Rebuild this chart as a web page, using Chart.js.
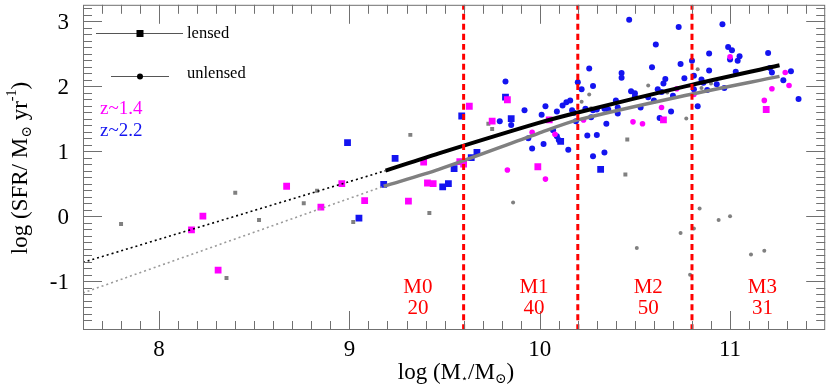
<!DOCTYPE html>
<html>
<head>
<meta charset="utf-8">
<script src="https://cdn.jsdelivr.net/npm/chart.js@4/dist/chart.umd.min.js"></script>
<style>
  body { margin: 0; background: #fff; }
  canvas { display: block; }
</style>
</head>
<body>
<canvas id="msChart" width="830" height="387"></canvas>
<script>
// axis ranges and tick labels
const xRange = [7.6, 11.5];
const yRange = [-1.75, 3.25];
const xTickLabels = [8, 9, 10, 11];
const yTickLabels = [-1, 0, 1, 2, 3];

// mass bin edges and bin labels
const binEdges = [9.6, 10.2, 10.8];
const binNames = ['M0', 'M1', 'M2', 'M3'];
const binCounts = ['20', '40', '50', '31'];
const binCentres = [9.36, 9.97, 10.57, 11.17];

// lensed galaxies (squares)
const lensedZ22 = [[8.99,1.13],[9.24,0.89],[9.18,0.49],[9.05,-0.03],[9.49,0.45],[9.52,0.50],[9.55,0.73],
  [9.59,1.54],[9.64,0.90],[9.67,0.98],[9.82,1.83],[9.85,1.50],[10.11,1.15],[10.32,0.72]];
const lensedZ14 = [[8.67,0.46],[8.23,0.00],[8.17,-0.21],[8.31,-0.83],[8.96,0.50],[8.85,0.14],[9.08,0.24],
  [9.31,0.23],[9.39,0.83],[9.41,0.51],[9.44,0.50],[9.58,0.84],[9.60,0.80],[9.63,1.69],[9.75,1.46],
  [9.83,1.79],[9.99,0.76],[10.05,1.48],[10.65,1.48],[11.19,1.64]];
const lensedOther = [[7.80,-0.12],[8.40,0.36],[8.525,-0.06],[8.354,-0.95],[8.83,0.39],[8.76,0.20],[9.02,-0.09],
  [9.42,0.05],[9.32,1.25],[9.73,1.42],[9.75,1.34],[10.46,1.18],[10.45,0.64]];

// unlensed galaxies (circles)
const unlensedZ14 = [[9.83,0.71],[10.03,0.57],[9.96,1.29],[10.08,1.26],[10.23,1.48],[10.49,1.45],[10.54,1.42],
  [10.64,1.67],[10.72,1.96],[10.81,1.87],[11.00,2.45],[11.18,1.78],[11.22,1.96],[11.29,2.21],[11.31,2.01]];
const unlensedZ22 = [[9.82,2.07],[9.79,1.46],[9.85,1.40],[9.92,1.63],[10.03,1.69],[10.01,1.56],[10.09,1.61],
  [9.94,1.20],[9.96,1.04],[10.02,1.11],[10.07,1.32],[10.12,1.70],[10.14,1.75],[10.16,1.78],[10.20,2.06],
  [10.17,1.63],[10.19,1.46],[10.09,1.23],[10.10,1.17],[10.15,1.02],[10.18,1.59],[10.22,1.95],[10.26,2.27],
  [10.28,2.00],[10.24,1.65],[10.27,1.52],[10.28,1.63],[10.30,1.64],[10.25,1.24],[10.30,1.25],[10.28,0.92],
  [10.34,0.98],[10.35,1.42],[10.34,1.65],[10.36,1.64],[10.40,1.78],[10.41,1.67],[10.41,1.58],[10.43,2.20],
  [10.43,2.13],[10.47,3.02],[10.48,1.92],[10.50,1.89],[10.50,1.84],[10.53,1.67],[10.57,1.83],[10.59,2.29],
  [10.60,1.78],[10.61,2.64],[10.62,1.95],[10.64,1.91],[10.65,2.04],[10.66,2.11],[10.63,1.51],[10.69,1.61],
  [10.70,1.85],[10.73,2.91],[10.74,2.34],[10.76,2.12],[10.80,2.39],[10.81,2.16],[10.81,1.95],[10.83,1.69],
  [10.85,2.10],[10.86,2.05],[10.88,1.94],[10.89,2.50],[10.89,2.24],[10.93,2.03],[10.96,2.95],[10.97,1.97],
  [10.99,2.60],[11.01,2.55],[11.00,2.41],[11.04,2.39],[11.05,2.46],[11.03,2.22],[11.20,2.51],[11.21,2.28],
  [11.22,2.21],[11.28,2.09],[11.32,2.23],[11.36,1.80]];
const unlensedOther = [[9.86,0.21],[10.51,-0.49],[10.74,-0.26],[10.81,-0.19],[10.84,0.12],[10.94,-0.06],
  [10.79,-0.90],[11.11,-0.59],[11.18,-0.53],[11.00,0.00],[10.26,1.87],[10.22,1.76],[10.57,2.01],[10.77,1.50],
  [10.67,1.90],[10.83,2.26],[10.85,1.97],[10.90,2.04],[10.27,1.66]];

// main-sequence fits
const fitLensed = [[9.19,0.70],[9.47,0.965],[9.99,1.43],[10.20,1.594],[10.77,2.00],[11.26,2.32]];
const fitUnlensed = [[9.18,0.46],[9.47,0.72],[9.99,1.27],[10.20,1.48],[10.77,1.86],[11.26,2.15]];
const extLensed = [[7.60,-0.71],[9.19,0.70]];
const extUnlensed = [[7.60,-1.18],[9.18,0.46]];

const BLUE = '#1414f0';
const MAGENTA = '#ff00ff';
const GREY = '#808080';
const SERIF = '"Liberation Serif", "DejaVu Serif", serif';

const pts = arr => arr.map(([x, y]) => ({ x, y }));

const scatterSet = (arr, color, style, r) => ({
  data: pts(arr), backgroundColor: color, borderColor: color, borderWidth: 0,
  pointStyle: style, pointRadius: r, showLine: false
});
const lineSet = (arr, color, width, dash) => ({
  data: pts(arr), borderColor: color, borderWidth: width, borderDash: dash || [],
  pointRadius: 0, showLine: true, tension: 0.3, fill: false
});

// first dataset ends up on top
const datasets = [
  ...binEdges.map(x => lineSet([[x, yRange[0]], [x, yRange[1]]], '#ff0000', 3, [6, 4])),
  lineSet(fitLensed, '#000000', 4),
  lineSet(fitUnlensed, GREY, 3.5),
  lineSet(extLensed, '#000000', 1.6, [2, 3]),
  lineSet(extUnlensed, '#9a9a9a', 1.6, [2, 3]),
  scatterSet(unlensedZ14, MAGENTA, 'circle', 2.8),
  scatterSet(lensedZ14, MAGENTA, 'rect', 4.8),
  scatterSet(unlensedOther, GREY, 'circle', 2),
  scatterSet(lensedOther, GREY, 'rect', 2.8),
  scatterSet(lensedZ22, BLUE, 'rect', 4.8),
  scatterSet(unlensedZ22, BLUE, 'circle', 3)
];

// frame, inward ticks, labels, titles and legend, all placed through the scales
const framePlugin = {
  id: 'frame',
  afterDraw(chart) {
    const { ctx, chartArea: a, scales: { x, y } } = chart;
    ctx.save();
    ctx.strokeStyle = '#707070';
    ctx.lineWidth = 1;
    ctx.strokeRect(a.left + 0.5, a.top + 0.5, a.right - a.left - 1, a.bottom - a.top - 1);

    ctx.beginPath();
    for (let i = Math.round(xRange[0] * 10) + 1; i < xRange[1] * 10; i++) {
      const px = Math.round(x.getPixelForValue(i / 10)) + 0.5;
      const len = i % 10 === 0 ? 19 : 9;
      ctx.moveTo(px, a.bottom); ctx.lineTo(px, a.bottom - len);
      ctx.moveTo(px, a.top); ctx.lineTo(px, a.top + len);
    }
    for (let i = Math.round(yRange[0] * 10) + 1; i < yRange[1] * 10; i++) {
      const py = Math.round(y.getPixelForValue(i / 10)) + 0.5;
      const len = i % 10 === 0 ? 19 : 9;
      ctx.moveTo(a.left, py); ctx.lineTo(a.left + len, py);
      ctx.moveTo(a.right, py); ctx.lineTo(a.right - len, py);
    }
    ctx.stroke();

    ctx.fillStyle = '#000';
    ctx.font = '23px ' + SERIF;
    ctx.textAlign = 'center';
    ctx.textBaseline = 'alphabetic';
    xTickLabels.forEach(v => ctx.fillText(String(v), x.getPixelForValue(v), 356));
    ctx.textAlign = 'right';
    ctx.textBaseline = 'middle';
    yTickLabels.forEach(v => ctx.fillText(String(v), 69, y.getPixelForValue(v) + 2));

    // x title: log (M*/M_sun)
    const drawRuns = (runs, cx, base) => {
      let w = 0;
      runs.forEach(r => { ctx.font = r.size + 'px ' + SERIF; w += ctx.measureText(r.t).width; });
      let cur = cx - w / 2;
      ctx.textAlign = 'left';
      ctx.textBaseline = 'alphabetic';
      runs.forEach(r => {
        ctx.font = r.size + 'px ' + SERIF;
        ctx.fillText(r.t, cur, base + (r.dy || 0));
        cur += ctx.measureText(r.t).width;
      });
    };
    drawRuns([
      { t: 'log (M', size: 23 }, { t: '\u22c6', size: 11, dy: 3 }, { t: '/M', size: 23 },
      { t: '\u2299', size: 14, dy: 4 }, { t: ')', size: 23 }
    ], 456, 379);

    ctx.save();
    ctx.translate(27, 168);
    ctx.rotate(-Math.PI / 2);
    drawRuns([
      { t: 'log (SFR/ M', size: 23 }, { t: '\u2299', size: 14, dy: 4 }, { t: ' yr', size: 23 },
      { t: '-1', size: 14, dy: -11 }, { t: ')', size: 23 }
    ], 0, 0);
    ctx.restore();

    // bin labels
    ctx.fillStyle = '#ff0000';
    ctx.font = '21px ' + SERIF;
    ctx.textAlign = 'center';
    binCentres.forEach((v, i) => {
      const px = x.getPixelForValue(v);
      ctx.fillText(binNames[i], px, 293);
      ctx.fillText(binCounts[i], px, 314);
    });

    // legend
    ctx.strokeStyle = '#555';
    ctx.lineWidth = 1;
    ctx.beginPath();
    ctx.moveTo(96, 33.5); ctx.lineTo(183, 33.5);
    ctx.moveTo(111, 76.5); ctx.lineTo(169, 76.5);
    ctx.stroke();
    ctx.fillStyle = '#000';
    ctx.fillRect(136.5, 30, 7, 7);
    ctx.beginPath(); ctx.arc(140, 76.5, 3, 0, Math.PI * 2); ctx.fill();
    ctx.font = '16.5px ' + SERIF;
    ctx.textAlign = 'left';
    ctx.textBaseline = 'middle';
    ctx.fillText('lensed', 187, 34);
    ctx.fillText('unlensed', 187, 74);

    ctx.textBaseline = 'alphabetic';
    ctx.font = '19px ' + SERIF;
    ctx.fillStyle = MAGENTA;
    ctx.fillText('z~1.4', 100, 114);
    ctx.fillStyle = BLUE;
    ctx.fillText('z~2.2', 100, 136);
    ctx.restore();
  }
};

new Chart(document.getElementById('msChart'), {
  type: 'scatter',
  data: { datasets },
  options: {
    responsive: false,
    animation: false,
    devicePixelRatio: 1,
    layout: { padding: { left: 83, right: 1, top: 0, bottom: 57 } },
    scales: {
      x: { type: 'linear', min: xRange[0], max: xRange[1], display: false },
      y: { type: 'linear', min: yRange[0], max: yRange[1], display: false }
    },
    plugins: { legend: { display: false }, tooltip: { enabled: false } }
  },
  plugins: [framePlugin]
});
</script>
</body>
</html>
